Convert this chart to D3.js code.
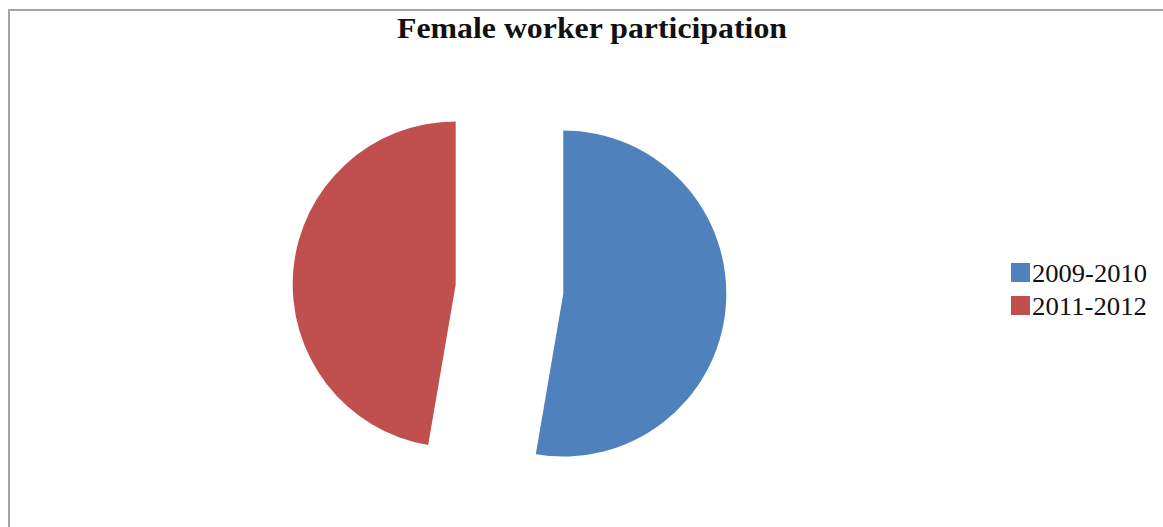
<!DOCTYPE html>
<html>
<head>
<meta charset="utf-8">
<style>
  body { margin: 0; background: #fff; }
  svg { display: block; }
</style>
</head>
<body>
<svg width="1163" height="527"></svg>
<script src="https://d3js.org/d3.v7.min.js"></script>
<script>
// data (share of the pie)
const periods = ["2009-2010", "2011-2012"];
const shares = [52.7, 47.3];
const colors = ["#4F81BD", "#C0504D"];

const width = 1163, height = 527;
const serif = "'Liberation Serif', 'Times New Roman', Times, serif";
const svg = d3.select("svg");

// chart frame (only top + left visible in the crop)
svg.append("rect")
  .attr("x", 9).attr("y", 10)
  .attr("width", width + 20).attr("height", height + 20)
  .style("fill", "none")
  .style("stroke", "#a3a3a3")
  .style("stroke-width", 2);

svg.append("text")
  .attr("x", 592).attr("y", 38)
  .attr("text-anchor", "middle")
  .attr("textLength", 390)
  .attr("lengthAdjust", "spacingAndGlyphs")
  .style("font-family", serif)
  .style("font-weight", "bold")
  .style("font-size", "29px")
  .style("fill", "#111")
  .text("Female worker participation");

const cx = 509.5, cy = 289, radius = 163, explode = 54;

const pie = d3.pie().sort(null).value(d => d.value);
const arc = d3.arc().innerRadius(0).outerRadius(radius);

const data = periods.map((p, i) => ({ name: p, value: shares[i], color: colors[i] }));

const g = svg.append("g").attr("transform", `translate(${cx},${cy})`);

g.selectAll("path")
  .data(pie(data))
  .join("path")
  .attr("d", arc)
  .attr("transform", d => {
    const mid = (d.startAngle + d.endAngle) / 2;
    return `translate(${Math.sin(mid) * explode},${-Math.cos(mid) * explode})`;
  })
  .style("fill", d => d.data.color);

// legend
const legend = svg.append("g")
  .attr("transform", "translate(1011,263)");

const item = legend.selectAll("g")
  .data(data)
  .join("g")
  .attr("transform", (d, i) => `translate(0,${i * 33})`);

item.append("rect")
  .attr("width", 19).attr("height", 19)
  .style("fill", d => d.color);

item.append("text")
  .attr("x", 21).attr("y", 19)
  .attr("textLength", 115)
  .attr("lengthAdjust", "spacingAndGlyphs")
  .style("font-family", serif)
  .style("font-size", "26px")
  .style("fill", "#111")
  .text(d => d.name);
</script>
</body>
</html>
